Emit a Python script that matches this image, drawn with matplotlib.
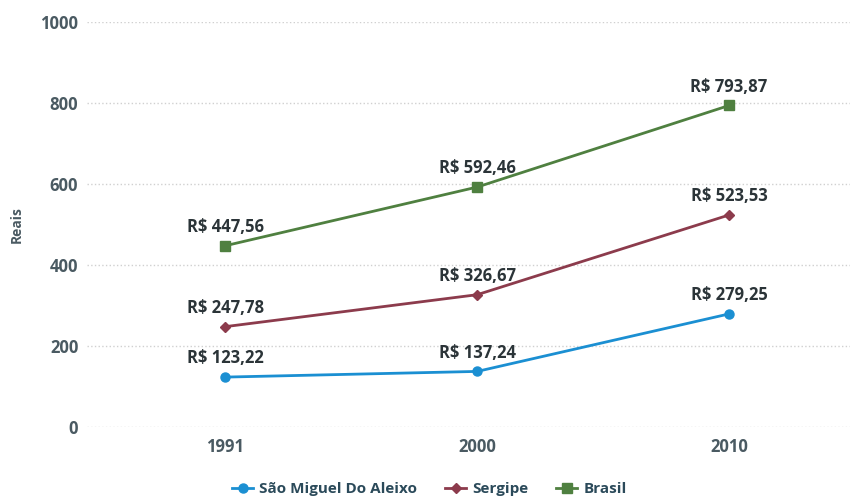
import matplotlib
matplotlib.use("Agg")
import matplotlib.pyplot as plt

categories = ["1991", "2000", "2010"]
sao_miguel = [123.22, 137.24, 279.25]
sergipe = [247.78, 326.67, 523.53]
brasil = [447.56, 592.46, 793.87]
series_names = ["São Miguel Do Aleixo", "Sergipe", "Brasil"]
yticks = [0, 200, 400, 600, 800, 1000]

plt.rcParams['font.family'] = ['Open Sans', 'DejaVu Sans']

fig = plt.figure(figsize=(8.5, 5), dpi=100)
ax = fig.add_axes([0.102, 0.146, 0.898, 0.81])

colors = ["#1b8fd2", "#8c3b4c", "#4f8040"]
markers = ["o", "D", "s"]
msizes = [6.5, 5, 6.5]
x = list(range(len(categories)))
for vals, name, c, m, ms in zip([sao_miguel, sergipe, brasil], series_names, colors, markers, msizes):
    ax.plot(x, vals, color=c, marker=m, markersize=ms, linewidth=2, label=name)
    for xi, v in zip(x, vals):
        lbl = "R$ " + f"{v:.2f}".replace(".", ",")
        ax.annotate(lbl, (xi, v), xytext=(0, 7), textcoords="offset points",
                    ha="center", va="bottom", fontsize=12, fontweight="bold", color="#2b3438")

ax.set_xlim(-0.55, 2.48)
ax.set_ylim(0, 1000)
ax.set_xticks(x)
ax.set_xticklabels(categories)
ax.set_yticks(yticks)
ax.tick_params(axis="both", length=0, labelsize=12, labelcolor="#4a5a62")
for t in ax.get_xticklabels() + ax.get_yticklabels():
    t.set_fontweight("bold")
ax.tick_params(axis="x", pad=8)
ax.tick_params(axis="y", pad=6)
ax.grid(axis="y", color="#d0d0d0", linestyle=":", linewidth=1)
for s in ax.spines.values():
    s.set_visible(False)
ax.set_ylabel("Reais", fontsize=10, fontweight="bold", color="#4a5a62", labelpad=12)

leg = fig.legend(loc="lower center", bbox_to_anchor=(0.505, -0.02), ncol=3, frameon=False,
                 fontsize=11, handlelength=1.4, columnspacing=1.8, handletextpad=0.4)
for t in leg.get_texts():
    t.set_fontweight("bold")
    t.set_color("#2b4a5a")

fig.savefig("out.png", dpi=100)
